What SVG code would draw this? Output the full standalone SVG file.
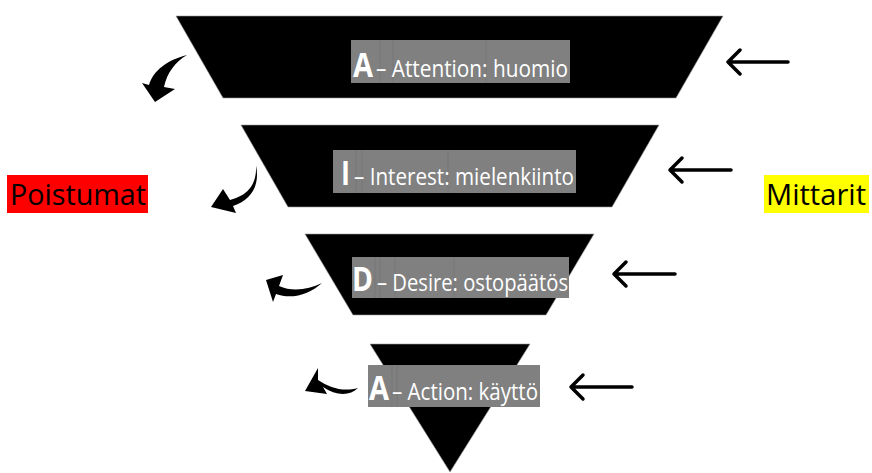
<svg xmlns="http://www.w3.org/2000/svg" width="872" height="473" viewBox="0 0 872 473">
<style>
.stage{fill:#000;stroke:#9a9a9a;stroke-width:0.6}
.lbl{fill:#808080}
.seam{stroke:#767676;stroke-width:1}
.big{font-family:"Open Sans","Liberation Sans",sans-serif;font-weight:bold;fill:#fff}
.txt{font-family:"Open Sans","Liberation Sans",sans-serif;fill:#fff}
.side{font-family:"Open Sans","Liberation Sans",sans-serif;fill:#000}
.metric{fill:none;stroke:#000;stroke-width:3.5;stroke-linecap:round;stroke-linejoin:round}
.exit{fill:#000}
</style>
<rect width="872" height="473" fill="#fff"/>

<g id="stage-attention">
<polygon class="stage" points="176,16 723,16 676,98 223,98"/>
<rect class="lbl" x="351" y="40" width="219" height="43"/>
<line class="seam" x1="380" y1="40" x2="380" y2="83"/><line class="seam" x1="393" y1="40" x2="393" y2="83"/><line class="seam" x1="486" y1="40" x2="486" y2="83"/>
<text class="big" x="353" y="77" font-size="34" textLength="20" lengthAdjust="spacingAndGlyphs">A</text>
<text class="txt" x="376" y="77" font-size="23" textLength="192" lengthAdjust="spacingAndGlyphs">– Attention: huomio</text>
</g>

<g id="stage-interest">
<polygon class="stage" points="241,125 659,125 612,207 288,207"/>
<rect class="lbl" x="333" y="150" width="243" height="43"/>
<line class="seam" x1="356" y1="150" x2="356" y2="193"/><line class="seam" x1="362" y1="150" x2="362" y2="193"/><line class="seam" x1="448" y1="150" x2="448" y2="193"/>
<text class="big" x="341" y="185" font-size="34" textLength="9" lengthAdjust="spacingAndGlyphs">I</text>
<text class="txt" x="354" y="185" font-size="23" textLength="220" lengthAdjust="spacingAndGlyphs">– Interest: mielenkiinto</text>
</g>

<g id="stage-desire">
<polygon class="stage" points="305,234 594,234 546,315 353,315"/>
<rect class="lbl" x="352" y="257" width="217" height="41"/>
<line class="seam" x1="375" y1="257" x2="375" y2="298"/><line class="seam" x1="380" y1="257" x2="380" y2="298"/><line class="seam" x1="395" y1="257" x2="395" y2="298"/><line class="seam" x1="454" y1="257" x2="454" y2="298"/>
<text class="big" x="352" y="291" font-size="34" textLength="21" lengthAdjust="spacingAndGlyphs">D</text>
<text class="txt" x="377" y="291" font-size="23" textLength="191" lengthAdjust="spacingAndGlyphs">– Desire: ostopäätös</text>
</g>

<g id="stage-action">
<polygon class="stage" points="370,344 530,344 450,472"/>
<rect class="lbl" x="368" y="365" width="172" height="42"/>
<line class="seam" x1="392" y1="365" x2="392" y2="407"/><line class="seam" x1="397" y1="365" x2="397" y2="407"/>
<text class="big" x="369" y="400" font-size="34" textLength="20" lengthAdjust="spacingAndGlyphs">A</text>
<text class="txt" x="392" y="400" font-size="23" textLength="146" lengthAdjust="spacingAndGlyphs">– Action: käyttö</text>
</g>

<g id="poistumat">
<rect x="7" y="175" width="141" height="38" fill="#ff0000"/>
<text class="side" x="10" y="205" font-size="30" textLength="136" lengthAdjust="spacingAndGlyphs">Poistumat</text>
</g>

<g id="mittarit">
<rect x="764" y="175" width="105" height="38" fill="#ffff00"/>
<text class="side" x="766" y="205" font-size="30" textLength="100" lengthAdjust="spacingAndGlyphs">Mittarit</text>
</g>

<g id="connectors">
<path class="exit" d="M187,55 C167,60 153,71 149,85 L142,83 L155,102 L175,89 L164,87 C167,73 175,62 187,55 Z"/>
<path class="exit" d="M256,165 C257,182 250,195 230,200 L223,189 L211,207 L236,213 L233,206 C252,200 260,185 256,165 Z"/>
<path class="exit" d="M322,283 C308,290 292,292 279,286 L283,275 L266,280 L273,302 L276,294 C292,300 310,294 322,283 Z"/>
<path class="exit" d="M358,388 C343,392 330,388 318,380 L318,368 L305,391 L327,394 L323,387 C336,396 350,396 358,388 Z"/>

<path class="metric" d="M788,62 H728 M740,50 L728,62 L740,74"/>
<path class="metric" d="M731,170 H670 M682,158 L670,170 L682,182"/>
<path class="metric" d="M675,274 H614 M626,262 L614,274 L626,286"/>
<path class="metric" d="M632,387 H571 M583,375 L571,387 L583,399"/>
</g>
</svg>
